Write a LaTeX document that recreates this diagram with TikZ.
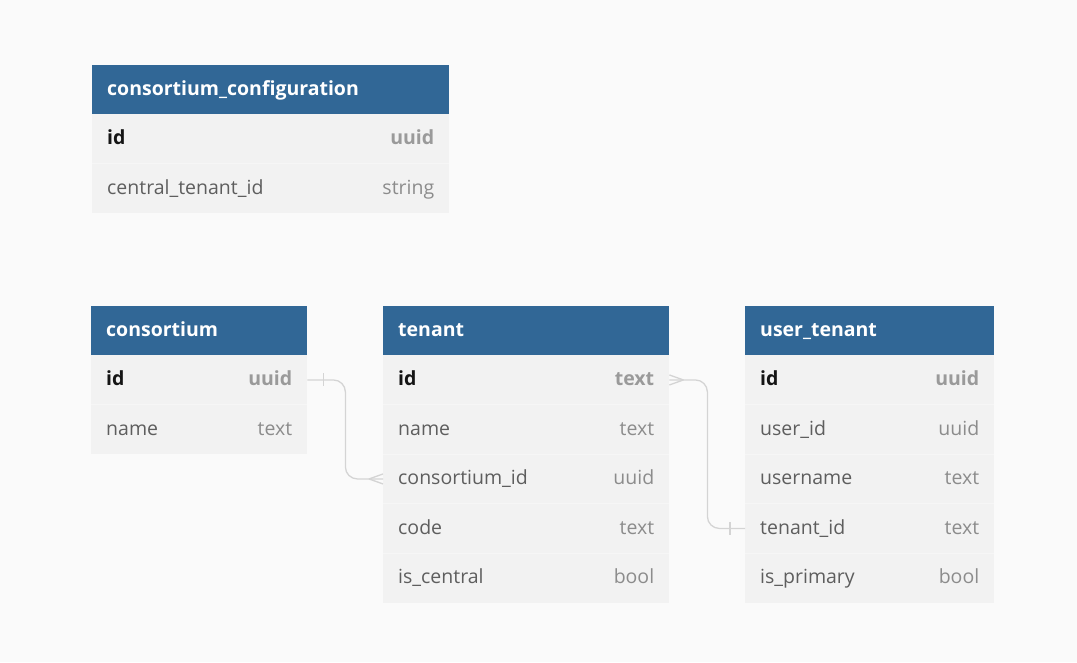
\documentclass[tikz,border=0pt]{standalone}
\usepackage{fontspec}
\setmainfont{Open Sans}
\definecolor{bg}{HTML}{FAFAFA}
\definecolor{hdrblue}{HTML}{316796}
\definecolor{rowfill}{HTML}{F2F2F2}
\definecolor{sepcol}{HTML}{F6F6F6}
\definecolor{conncol}{HTML}{D4D4D4}
\definecolor{fieldcol}{HTML}{5E5E5E}
\definecolor{typecol}{HTML}{8C8C8C}
\definecolor{pkcol}{HTML}{151515}
\definecolor{pktype}{HTML}{9A9A9A}
\tikzset{
  hdr/.style={rectangle, fill=hdrblue, anchor=north west, minimum height=49pt, inner sep=0pt},
  rowbox/.style={rectangle, fill=rowfill, anchor=north west, minimum height=49.5pt, inner sep=0pt},
  txt/.style={inner sep=0pt, text height=16.5pt, text depth=4.5pt, font=\fontsize{19.5}{23}\selectfont},
  hdrtxt/.style={txt, anchor=west, text=white, font=\fontsize{19.5}{23}\selectfont\bfseries},
  fname/.style={txt, anchor=west, text=fieldcol},
  ftype/.style={txt, anchor=east, text=typecol},
  pkname/.style={txt, anchor=west, text=pkcol, font=\fontsize{19.5}{23}\selectfont\bfseries},
  pktypest/.style={txt, anchor=east, text=pktype, font=\fontsize{19.5}{23}\selectfont\bfseries},
  sep/.style={draw=sepcol, line width=1pt},
  conn/.style={draw=conncol, line width=1.3pt, rounded corners=12pt},
  tickmark/.style={draw=conncol, line width=1.3pt},
}
\newcommand\ertable[6]{%
  \node[hdr, minimum width=#4] (#1) at (#2,#3) {};
  \node[hdrtxt] (#1-title) at ([xshift=15pt]#1.west) {#5};
  \foreach \k/\f/\t [count=\i from 0] in {#6} {
    \node[rowbox, minimum width=#4] (#1-\k) at (#2,#3+49+49.5*\i) {};
    \ifnum\i=0
      \node[pkname] (#1-\k-name) at ([xshift=15pt]#1-\k.west) {\f};
      \node[pktypest] (#1-\k-type) at ([xshift=-15pt]#1-\k.east) {\t};
    \else
      \draw[sep] (#1-\k.north west) -- (#1-\k.north east);
      \node[fname] (#1-\k-name) at ([xshift=15pt]#1-\k.west) {\f};
      \node[ftype] (#1-\k-type) at ([xshift=-15pt]#1-\k.east) {\t};
    \fi
  }%
}
\begin{document}
\begin{tikzpicture}[x=1pt, y=-1pt]
\useasboundingbox (0,0) rectangle (1077,662);
\fill[bg] (0,0) rectangle (1077,662);

\ertable{cc}{92}{65}{357}{consortium\_configuration}{id/id/uuid, ctid/central\_tenant\_id/string}
\ertable{cons}{91}{306}{216}{consortium}{id/id/uuid, name/name/text}
\ertable{ten}{383}{306}{286}{tenant}{id/id/text, name/name/text, cid/consortium\_id/uuid, code/code/text, central/is\_central/bool}
\ertable{ut}{745}{306}{249}{user\_tenant}{id/id/uuid, uid/user\_id/uuid, uname/username/text, tid/tenant\_id/text, primary/is\_primary/bool}

% consortium.id -- tenant.consortium_id
\draw[conn] (cons-id.east) -- ++(38,0) |- (ten-cid.west);
\draw[tickmark] ([xshift=16pt,yshift=6.5pt]cons-id.east) -- ([xshift=16pt,yshift=-6.5pt]cons-id.east);
\draw[tickmark] ([xshift=-14pt]ten-cid.west) -- ([yshift=5pt]ten-cid.west);
\draw[tickmark] ([xshift=-14pt]ten-cid.west) -- ([yshift=-5pt]ten-cid.west);

% tenant.id -- user_tenant.tenant_id
\draw[conn] (ten-id.east) -- ++(38,0) |- (ut-tid.west);
\draw[tickmark] ([xshift=14pt]ten-id.east) -- ([yshift=5pt]ten-id.east);
\draw[tickmark] ([xshift=14pt]ten-id.east) -- ([yshift=-5pt]ten-id.east);
\draw[tickmark] ([xshift=-15pt,yshift=6.5pt]ut-tid.west) -- ([xshift=-15pt,yshift=-6.5pt]ut-tid.west);
\end{tikzpicture}
\end{document}
